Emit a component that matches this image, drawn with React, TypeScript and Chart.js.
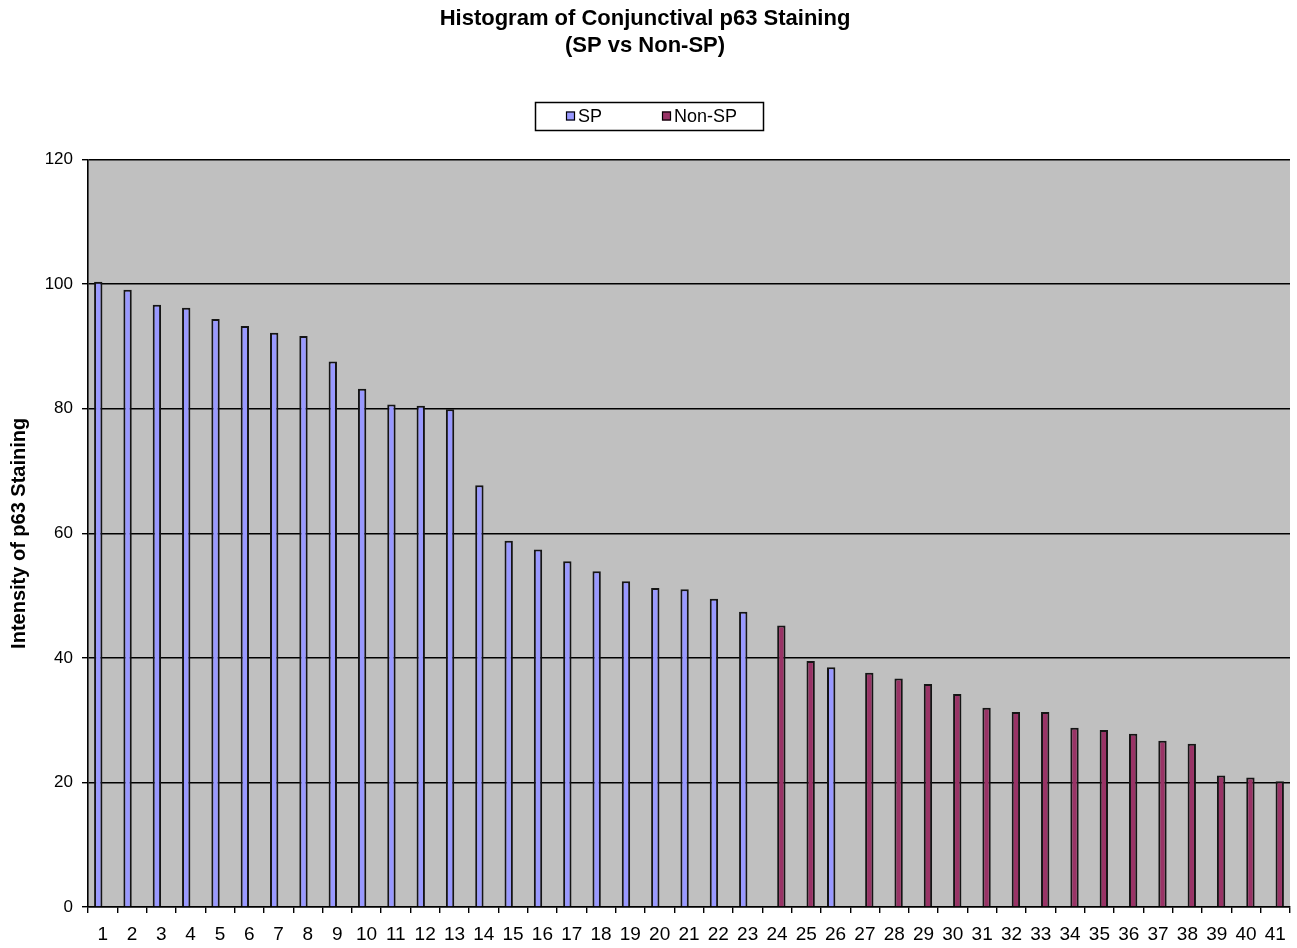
import React, { useEffect, useRef } from "react";
import { Chart, registerables } from "chart.js";

Chart.register(...registerables);

// Sample numbers along the x axis
const categories = [
  "1", "2", "3", "4", "5", "6", "7", "8", "9", "10",
  "11", "12", "13", "14", "15", "16", "17", "18", "19", "20",
  "21", "22", "23", "24", "25", "26", "27", "28", "29", "30",
  "31", "32", "33", "34", "35", "36", "37", "38", "39", "40", "41",
];

// Staining intensity for SP samples (null where the sample is Non-SP)
const spValues = [
  100.4, 99.1, 96.7, 96.2, 94.4, 93.3, 92.2, 91.7, 87.6, 83.2,
  80.7, 80.5, 79.9, 67.7, 58.8, 57.4, 55.5, 53.9, 52.3, 51.2,
  51.0, 49.5, 47.4, null, null, 38.5, null, null, null, null,
  null, null, null, null, null, null, null, null, null, null, null,
];

// Staining intensity for Non-SP samples (null where the sample is SP)
const nonSpValues = [
  null, null, null, null, null, null, null, null, null, null,
  null, null, null, null, null, null, null, null, null, null,
  null, null, null, 45.2, 39.5, null, 37.6, 36.7, 35.8, 34.2,
  32.0, 31.3, 31.3, 28.8, 28.4, 27.8, 26.7, 26.2, 21.1, 20.8, 20.2,
];

const seriesNames = ["SP", "Non-SP"];
const seriesColors = ["#9999FF", "#993366"];
const titleLines = ["Histogram of Conjunctival p63 Staining", "(SP vs Non-SP)"];
const yAxisTitle = "Intensity of p63 Staining";
const yTicks = [0, 20, 40, 60, 80, 100, 120];

const FONT = "Arial, 'Liberation Sans', Helvetica, sans-serif";

// Grey plot-area fill drawn beneath grid lines and bars
const plotBackground = {
  id: "plotBackground",
  beforeDraw(chart: any) {
    const { ctx, chartArea } = chart;
    ctx.save();
    ctx.fillStyle = "#C0C0C0";
    ctx.fillRect(chartArea.left, chartArea.top, chartArea.right - chartArea.left, chartArea.bottom - chartArea.top);
    ctx.restore();
  },
};

// Legend enclosed in a framed box, centred under the title
const boxedLegend = {
  id: "boxedLegend",
  afterDraw(chart: any) {
    const { ctx } = chart;
    const w = 228;
    const h = 28;
    const x0 = Math.round(chart.width / 2 - w / 2);
    const y0 = 102;
    ctx.save();
    ctx.lineWidth = 1.5;
    ctx.strokeStyle = "#000";
    ctx.strokeRect(x0 + 0.5, y0 + 0.5, w, h);
    const offsets = [31, 127];
    ctx.font = `18px ${FONT}`;
    ctx.textBaseline = "middle";
    ctx.textAlign = "left";
    chart.data.datasets.forEach((ds: any, i: number) => {
      const sx = x0 + offsets[i];
      const sy = y0 + 9.5;
      ctx.fillStyle = ds.backgroundColor;
      ctx.fillRect(sx, sy, 9, 9);
      ctx.lineWidth = 1.2;
      ctx.strokeStyle = "#000";
      ctx.strokeRect(sx + 0.5, sy + 0.5, 8, 8);
      ctx.fillStyle = "#000";
      ctx.fillText(ds.label, sx + 12, y0 + h / 2 + 1);
    });
    ctx.restore();
  },
};

export default function App() {
  const canvasRef = useRef<HTMLCanvasElement | null>(null);

  useEffect(() => {
    const canvas = canvasRef.current;
    if (!canvas) return;
    const chart = new Chart(canvas, {
      type: "bar",
      data: {
        labels: categories,
        datasets: [
          {
            label: seriesNames[0],
            data: spValues,
            backgroundColor: seriesColors[0],
            borderColor: "#151515",
            borderWidth: 2,
            categoryPercentage: 0.6,
            barPercentage: 0.95,
          },
          {
            label: seriesNames[1],
            data: nonSpValues,
            backgroundColor: seriesColors[1],
            borderColor: "#151515",
            borderWidth: 2,
            categoryPercentage: 0.6,
            barPercentage: 0.95,
          },
        ],
      },
      options: {
        responsive: false,
        animation: false,
        layout: { padding: { left: 0, right: 7, top: 0, bottom: 0 } },
        plugins: {
          legend: { display: false },
          tooltip: { enabled: false },
          title: {
            display: true,
            text: titleLines,
            color: "#000",
            font: { family: FONT, size: 22, weight: "bold", lineHeight: 1.23 },
            padding: { top: 5.5, bottom: 100 },
          },
        },
        scales: {
          x: {
            type: "category",
            offset: true,
            grid: {
              offset: true,
              drawOnChartArea: false,
              drawTicks: true,
              tickLength: 6,
              color: "#000",
              lineWidth: 1.4,
            },
            border: { color: "#000", width: 1.6 },
            ticks: {
              color: "#000",
              font: { family: FONT, size: 19 },
              padding: 10,
              autoSkip: false,
              maxRotation: 0,
              minRotation: 0,
            },
            afterFit(scale: any) {
              scale.height = 41;
            },
          },
          y: {
            min: yTicks[0],
            max: yTicks[yTicks.length - 1],
            afterBuildTicks(scale: any) {
              scale.ticks = yTicks.map((v) => ({ value: v }));
            },
            grid: {
              color: "#000",
              lineWidth: 1.4,
              drawTicks: true,
              tickLength: 6,
            },
            border: { color: "#000", width: 1.6 },
            ticks: {
              color: "#000",
              font: { family: FONT, size: 17 },
              padding: 9,
            },
            title: {
              display: true,
              text: yAxisTitle,
              color: "#000",
              font: { family: FONT, size: 20, weight: "bold" },
              padding: { top: 7, bottom: 0 },
            },
            afterFit(scale: any) {
              scale.width = 88;
            },
          },
        },
      },
      plugins: [plotBackground, boxedLegend],
    });
    return () => chart.destroy();
  }, []);

  return (
    <div style={{ position: "absolute", left: 0, top: 0, width: 1297, height: 948, background: "#fff" }}>
      <canvas ref={canvasRef} width={1297} height={948} style={{ display: "block" }} />
    </div>
  );
}
